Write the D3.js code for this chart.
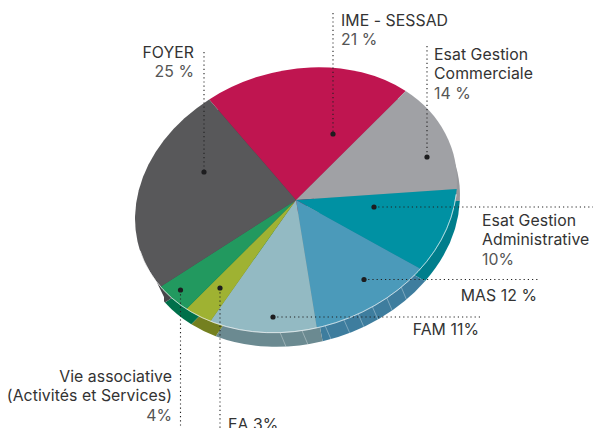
<!DOCTYPE html>
<html><head><meta charset="utf-8">
<script src="https://cdn.jsdelivr.net/npm/d3@7"></script>
<style>html,body{margin:0;background:#fff}svg{display:block}text{font-family:Inter,sans-serif;font-size:15.8px;letter-spacing:.06px;fill:#333}</style>
</head><body><svg id="c" width="593" height="428"></svg>
<script>
const categories=["IME - SESSAD","Esat Gestion Commerciale","Esat Gestion Administrative","MAS","FAM","EA","Vie associative (Activités et Services)","FOYER"];
const values=[21,14,10,12,11,3,4,25];
const valueLabels=["21 %","14 %","10%","12 %","11%","3%","4%","25 %"];
const topColors=["#bf1550","#a0a1a5","#0091a3","#4b9aba","#93bac3","#9fb232","#22995f","#58585a"];
const wallColors=["#8e1040","#97989c","#007e8c","#3e7d9e","#6b8a91","#748020","#00704a","#47474a"];
const seamDegrees=[153.5,160,166,171.6,177,183.9,192.2,200];

const svg=d3.select("#c");
const A=164, B=129, tilt=18, startDeg=-18.3, wallShift=-1;
const cx=296, cy=200, wx=299, wy=214;
const rad=d=>d*Math.PI/180;
const arc=d3.arc().innerRadius(0).outerRadius(A);
const pie=s=>d3.pie().sort(null).startAngle(rad(s)).endAngle(rad(s+360));
const tf=(x,y)=>`translate(${x},${y}) rotate(${-tilt}) scale(1,${B/A})`;

// the wall fades out on the far left, so it is clipped there
svg.append("defs").append("clipPath").attr("id","wallClip").append("path")
  .attr("d",d3.line()([[145,258],[164,297],[164,428],[593,428],[593,0],[145,0]])+"Z");

// wall: same slices on a lower ellipse
svg.append("g").attr("clip-path","url(#wallClip)").append("g").attr("transform",tf(wx,wy))
  .selectAll("path").data(pie(startDeg+wallShift)(values)).join("path").attr("d",arc)
  .attr("fill",(d,i)=>wallColors[i]);

// seams on the wall
const pt=(x,y,a)=>{const X=A*Math.sin(rad(a)),Y=-B*Math.cos(rad(a)),c=Math.cos(rad(tilt)),s=Math.sin(rad(tilt));
  return [x+X*c+Y*s,y-X*s+Y*c];};
svg.append("g").selectAll("line").data(seamDegrees).join("line")
  .attr("x1",d=>pt(cx,cy,d)[0]).attr("y1",d=>pt(cx,cy,d)[1])
  .attr("x2",d=>pt(wx,wy,d+wallShift)[0]).attr("y2",d=>pt(wx,wy,d+wallShift)[1])
  .attr("stroke","#fff").attr("stroke-opacity",.4).attr("stroke-width",.8);

// top face
const face=svg.append("g").attr("transform",tf(cx,cy));
face.selectAll("path").data(pie(startDeg)(values)).join("path").attr("d",arc)
  .attr("fill",(d,i)=>topColors[i]);
face.append("path").attr("d",d3.arc()({innerRadius:A,outerRadius:A,startAngle:rad(110),endAngle:rad(270)}))
  .attr("fill","none").attr("stroke","#fff").attr("stroke-opacity",.55).attr("stroke-width",.8).attr("vector-effect","non-scaling-stroke");

// leader lines
const leaders=[[204,52,204,172,204,172],[333,13,333,134,333,134],[427,46,427,157,427,157],
 [374,207,593,207,374,207],[364,279.5,538,279.5,364,279.5],[273,317,483,317,273,317],
 [180.5,290,180.5,428,180.5,290],[220,288,220,428,220,288]];
const lg=svg.append("g");
lg.selectAll("line").data(leaders).join("line")
  .attr("x1",d=>d[0]).attr("y1",d=>d[1]).attr("x2",d=>d[2]).attr("y2",d=>d[3])
  .attr("stroke","#222").attr("stroke-width",1.1).attr("stroke-dasharray","1.2 3");
lg.selectAll("circle").data(leaders).join("circle")
  .attr("cx",d=>d[4]).attr("cy",d=>d[5]).attr("r",2.6).attr("fill","#1d1d1f");

// labels
const labels=[
 {a:"end",x:194,y:58,l:[[categories[7]],[valueLabels[7],1]]},
 {a:"start",x:341,y:26,l:[[categories[0]],[valueLabels[0],1]]},
 {a:"start",x:434,y:60,l:[["Esat Gestion"],["Commerciale"],[valueLabels[1],1]]},
 {a:"start",x:482,y:226,l:[["Esat Gestion"],["Administrative"],[valueLabels[2],1]]},
 {a:"end",x:537,y:301,l:[[categories[3]+" "+valueLabels[3]]]},
 {a:"end",x:479,y:335,l:[[categories[4]+" "+valueLabels[4]]]},
 {a:"end",x:172,y:382,l:[["Vie associative"],["(Activités et Services)"],[valueLabels[6],1]]},
 {a:"start",x:228,y:430,l:[[categories[5]+" "+valueLabels[5]]]}
];
labels.forEach(b=>{
  const t=svg.append("text").attr("text-anchor",b.a);
  b.l.forEach((r,i)=>t.append("tspan").attr("x",b.x).attr("y",b.y+i*19.4).style("fill",r[1]?"#555":"#333").text(r[0]));
});
</script></body></html>
